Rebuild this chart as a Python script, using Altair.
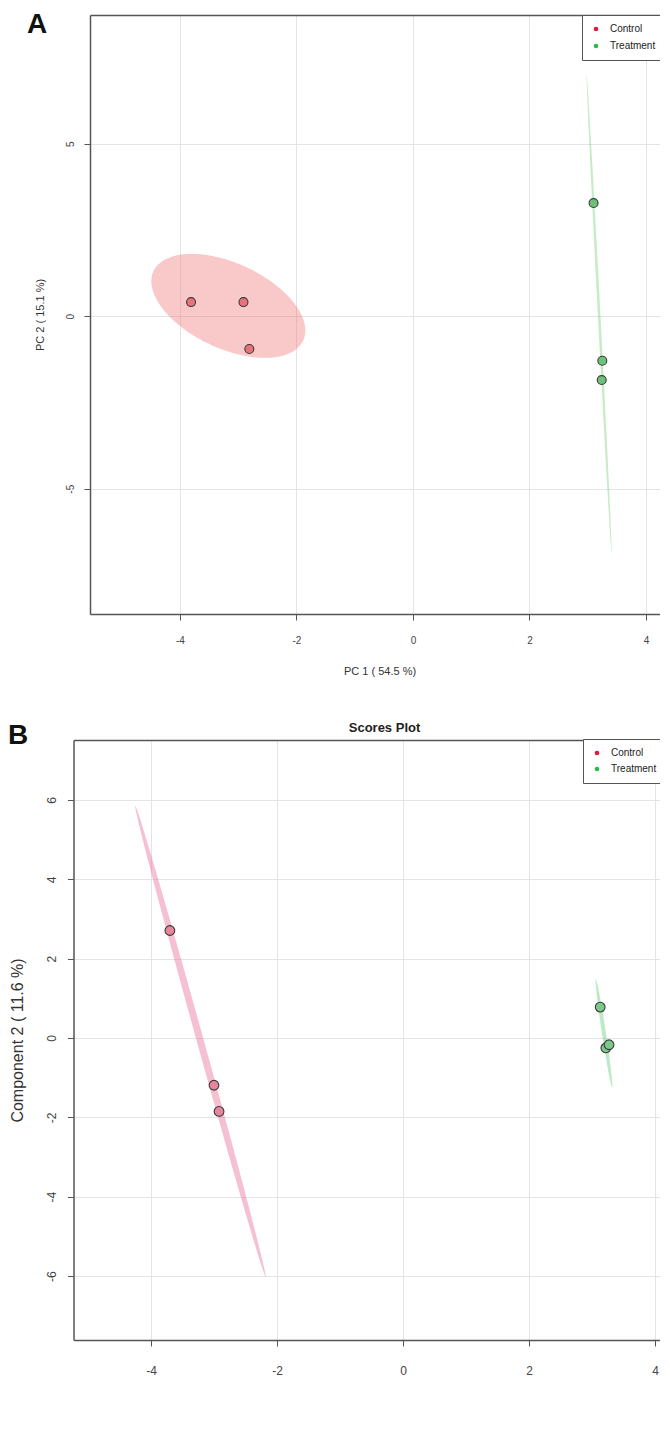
import altair as alt
import numpy as np
import pandas as pd

FONT = "Liberation Sans"
groups = ["Control", "Treatment"]
legend_colors = ["#E3183D", "#2DB84B"]

# ---------------- Panel A : PCA scores ----------------
a_group = ["Control", "Control", "Control", "Treatment", "Treatment", "Treatment"]
a_pc1 = [-3.81, -2.91, -2.81, 3.10, 3.25, 3.24]
a_pc2 = [0.41, 0.41, -0.95, 3.28, -1.29, -1.85]
# confidence ellipses: centre, major semi-axis vector, minor semi-axis vector
a_ell_cx = [-3.17, 3.195]
a_ell_cy = [0.30, 0.065]
a_ell_ux = [1.286, 0.215]
a_ell_uy = [-1.003, -6.955]
a_ell_vx = [-0.307, 0.022]
a_ell_vy = [-1.124, 0.0]

# ---------------- Panel B : PLS-DA scores ----------------
b_group = ["Control", "Control", "Control", "Treatment", "Treatment", "Treatment"]
b_c1 = [-3.70, -3.00, -2.92, 3.13, 3.22, 3.27]
b_c2 = [2.71, -1.19, -1.85, 0.78, -0.25, -0.17]
b_ell_cx = [-3.215, 3.19]
b_ell_cy = [-0.085, 0.115]
b_ell_ux = [1.035, 0.13]
b_ell_uy = [-5.935, -1.365]
b_ell_vx = [-0.0535, -0.031]
b_ell_vy = [-0.024, -0.008]


def ellipse_band(group, cx, cy, ux, uy, vx, vy, n=120):
    r = np.hypot(uy, vy)
    phi = np.arctan2(vy, uy)
    s = np.linspace(0.0, np.pi, n)
    y = cy + r * np.cos(s)
    t1, t2 = phi + s, phi - s
    xa = cx + ux * np.cos(t1) + vx * np.sin(t1)
    xb = cx + ux * np.cos(t2) + vx * np.sin(t2)
    return pd.DataFrame({"group": group, "y": y,
                         "xl": np.minimum(xa, xb), "xr": np.maximum(xa, xb)})


def panel(letter, gp, xs, ys, ecx, ecy, eux, euy, evx, evy,
          xdom, ydom, xvals, yvals, xtitle, ytitle, w, h,
          pt_fill, ell_col, ell_op, pt_size, p):
    pts = pd.DataFrame({"group": gp, "x": xs, "y": ys})
    ells = [ellipse_band(groups[i], ecx[i], ecy[i], eux[i], euy[i], evx[i], evy[i])
            for i in range(2)]

    xscale = alt.Scale(domain=xdom, range=[-p["yoff"], w], nice=False, zero=False)
    yscale = alt.Scale(domain=ydom, nice=False, zero=False)
    yaxis = alt.Axis(values=yvals, labelExpr="'' + datum.value", title=ytitle, offset=p["yoff"],
                     grid=True, gridColor="#E4E4E4", domainColor="#555", domainWidth=1.5,
                     tickColor="#555", tickSize=6, labelAngle=-90, labelAlign="center",
                     labelBaseline="bottom", labelFontSize=p["tick_fs"], labelColor="#444",
                     labelFont=FONT, labelPadding=p["ylab_pad"], titleFont=FONT,
                     titleFontSize=p["title_fs"], titleFontWeight="normal", titleColor="#333",
                     titlePadding=p["ytit_pad"])
    xaxis_bottom = alt.Axis(values=xvals, labelExpr="'' + datum.value", title=xtitle,
                            grid=True, gridColor="#E4E4E4", domainColor="#555", domainWidth=1.5,
                            tickColor="#555", tickSize=6, labelFontSize=p["tick_fs"],
                            labelColor="#444", labelFont=FONT, labelPadding=p["xlab_pad"],
                            titleFont=FONT, titleFontSize=p["title_fs"], titleFontWeight="normal",
                            titleColor="#333", titlePadding=p["xtit_pad"])
    xaxis_top = alt.Axis(orient="top", labels=False, ticks=False, grid=False, title=None,
                         domainColor="#555", domainWidth=1.5)

    layers = []
    for i in range(2):
        layers.append(
            alt.Chart(ells[i]).mark_area(orient="horizontal", color=ell_col[i], opacity=ell_op[i])
            .encode(x=alt.X("xl:Q", scale=xscale, axis=xaxis_top if i == 0 else None),
                    x2="xr:Q",
                    y=alt.Y("y:Q", scale=yscale, axis=yaxis))
        )
    # swatch layer (hidden under the points) that provides the legend
    nb = "\u00a0" * 6
    layers.append(
        alt.Chart(pts).mark_point(filled=True, size=12, opacity=1)
        .encode(x=alt.X("x:Q", scale=xscale, axis=None),
                y=alt.Y("y:Q", scale=yscale, axis=yaxis),
                color=alt.Color("group:N", scale=alt.Scale(domain=groups, range=legend_colors),
                                legend=alt.Legend(title=None, orient="none",
                                                  legendX=p["leg_x"], legendY=p["leg_y"],
                                                  padding=p["leg_pad"], strokeColor="#555",
                                                  fillColor="white", labelFont=FONT,
                                                  labelFontSize=10, labelColor="#222",
                                                  symbolType="circle", symbolSize=22,
                                                  symbolStrokeWidth=0, rowPadding=p["leg_row"],
                                                  labelOffset=9,
                                                  labelExpr="datum.label + '" + nb + "'")))
    )
    for i in range(2):
        layers.append(
            alt.Chart(pts).transform_filter(alt.datum.group == groups[i])
            .mark_point(filled=True, size=pt_size, fill=pt_fill[i], stroke="#3A3A3A",
                        strokeWidth=1.1, opacity=1)
            .encode(x=alt.X("x:Q", scale=xscale, axis=xaxis_bottom if i == 0 else None),
                    y=alt.Y("y:Q", scale=yscale, axis=yaxis))
        )
    layers.append(
        alt.Chart(pd.DataFrame({"t": [letter]})).mark_text(
            fontSize=28, fontWeight="bold", font=FONT, align="left", baseline="alphabetic",
            color="#111")
        .encode(text="t:N", x=alt.value(p["letter_x"]), y=alt.value(p["letter_y"]))
    )
    if p.get("spacer_x") is not None:
        # invisible blank text that reserves the same left margin in both panels
        layers.append(
            alt.Chart(pd.DataFrame({"t": ["\u00a0"]})).mark_text(
                fontSize=10, font=FONT, align="left", baseline="middle", opacity=0)
            .encode(text="t:N", x=alt.value(p["spacer_x"]), y=alt.value(60))
        )
    return alt.layer(*layers).resolve_axis(x="independent").properties(
        width=w, height=h,
        title=alt.Title("Scores Plot", font=FONT, fontSize=13, fontWeight="bold",
                        color="#222", anchor="middle", frame="group", dx=5,
                        baseline="alphabetic", offset=p["title_off"]),
    )


pA = panel("A", a_group, a_pc1, a_pc2, a_ell_cx, a_ell_cy, a_ell_ux, a_ell_uy, a_ell_vx, a_ell_vy,
           [-5.545, 4.395], [-8.63, 8.73], [-4, -2, 0, 2, 4], [-5, 0, 5],
           "PC 1 ( 54.5 %)", "PC 2 ( 15.1 %)", 579, 599,
           ["#E8727A", "#6CC27A"], ["#F07070", "#5BC85B"], [0.38, 0.35], 80,
           dict(yoff=0, tick_fs=10, title_fs=11, xlab_pad=15, xtit_pad=20, ylab_pad=9, ytit_pad=20,
                leg_pad=9, leg_row=7, leg_x=492, leg_y=0, letter_x=-63, letter_y=18,
                spacer_x=-82, title_off=2))

pB = panel("B", b_group, b_c1, b_c2, b_ell_cx, b_ell_cy, b_ell_ux, b_ell_uy, b_ell_vx, b_ell_vy,
           [-5.23, 4.222], [-7.61, 7.51], [-4, -2, 0, 2, 4], [-6, -4, -2, 0, 2, 4, 6],
           "Component 1 ( 54.5 %)", "Component 2 ( 11.6 %)", 579, 600,
           ["#E6859C", "#7CC88A"], ["#E8769A", "#5BC870"], [0.45, 0.4], 95,
           dict(yoff=16.5, tick_fs=12, title_fs=16, xlab_pad=19, xtit_pad=13, ylab_pad=9,
                ytit_pad=20, leg_pad=9, leg_row=6, leg_x=493, leg_y=-1, letter_x=-82, letter_y=4,
                spacer_x=None, title_off=-22.5))

chart = alt.vconcat(pA, pB, spacing=45).resolve_scale(
    color="independent"
).properties(
    padding={"left": 0, "top": -22, "right": -26, "bottom": -23}
).configure_view(stroke=None)

chart.save("out.html", embed_options={"renderer": "svg", "actions": False})
